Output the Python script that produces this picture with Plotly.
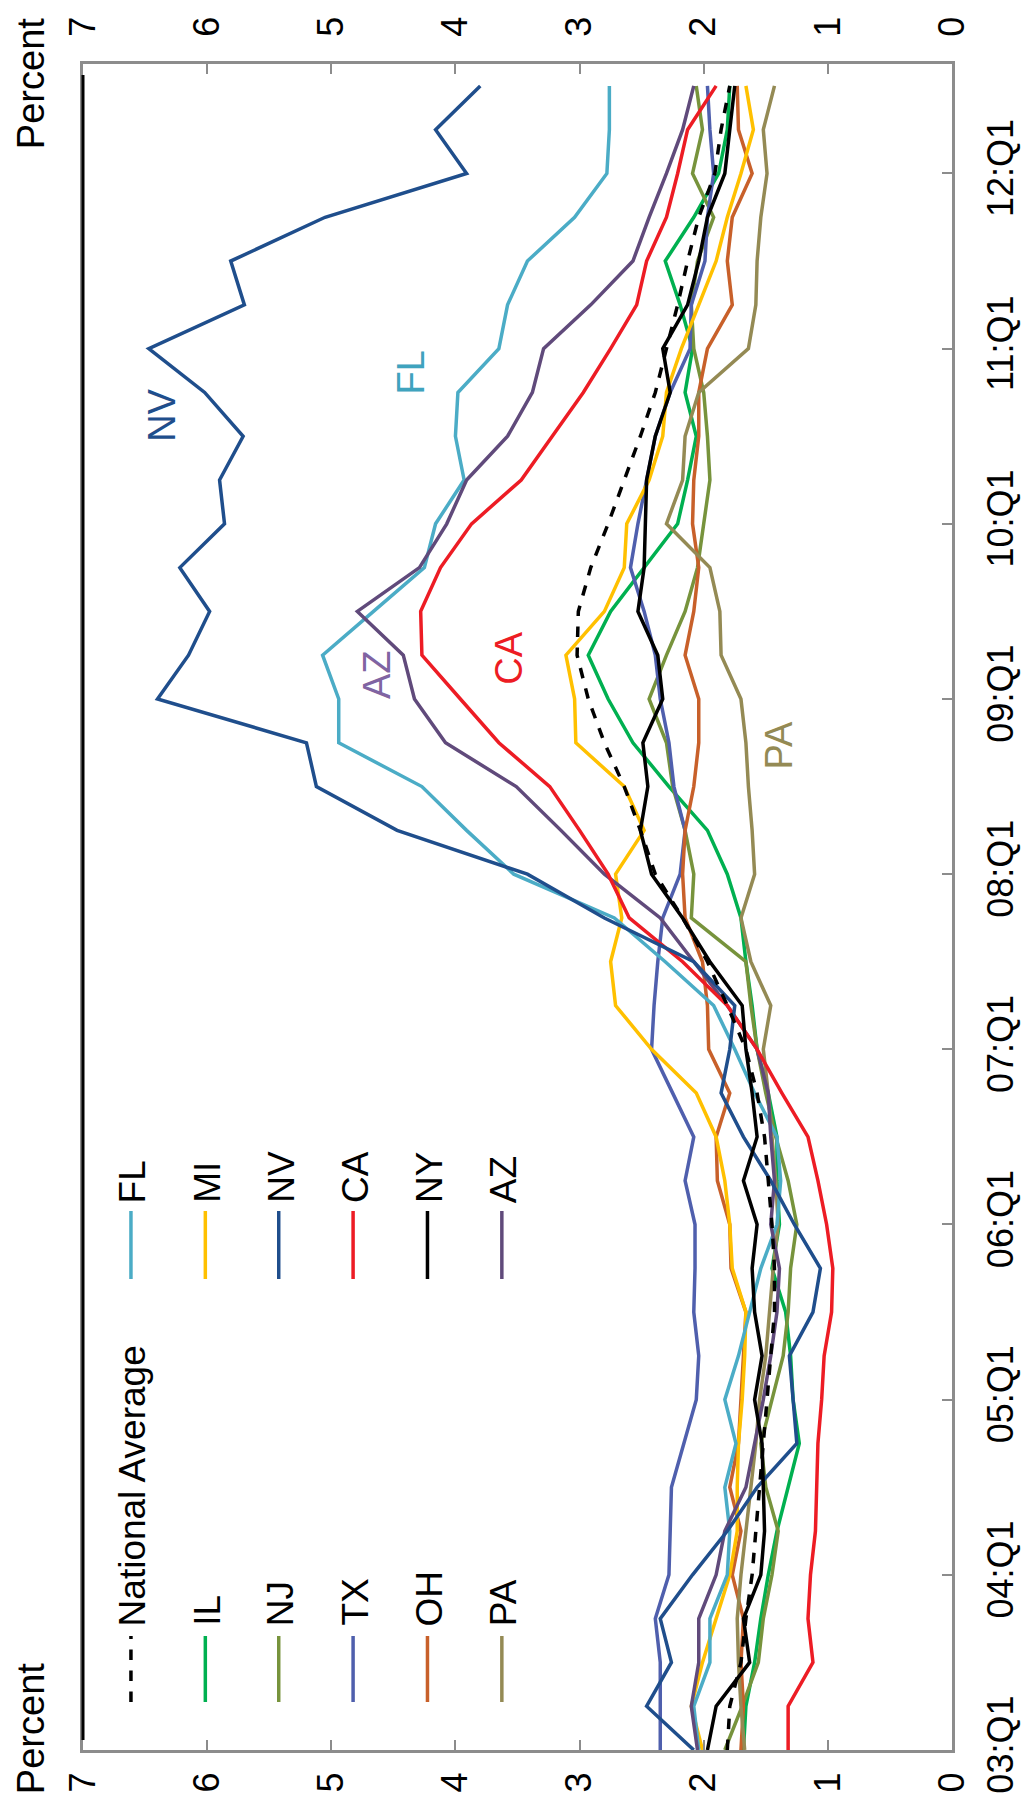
import plotly.graph_objects as go

quarters = [f"{y:02d}:Q{q}" for y in range(3, 13) for q in range(1, 5)][:39]
tick_quarters = [f"{y:02d}:Q1" for y in range(3, 13)]
pct_ticks = [0, 1, 2, 3, 4, 5, 6, 7]

national = [1.81,1.79,1.70,1.66,1.61,1.58,1.55,1.52,1.49,1.46,1.43,1.43,1.45,1.48,1.51,1.57,1.66,1.81,1.97,2.17,
            2.39,2.51,2.64,2.80,2.93,3.02,3.01,2.91,2.77,2.64,2.51,2.39,2.30,2.21,2.13,2.04,1.91,1.86,1.79]
fl = [2.04,2.08,1.95,1.95,1.81,1.79,1.83,1.74,1.83,1.72,1.63,1.54,1.41,1.38,1.41,1.59,1.75,1.92,2.31,2.72,
      3.53,3.91,4.27,4.94,4.94,5.07,4.66,4.25,4.16,3.93,4.00,3.98,3.65,3.58,3.42,3.04,2.78,2.76,2.76]
il = [1.68,1.66,1.59,1.54,1.48,1.41,1.32,1.23,1.28,1.30,1.34,1.45,1.39,1.41,1.41,1.48,1.57,1.61,1.66,1.70,
      1.81,1.97,2.28,2.57,2.77,2.93,2.75,2.48,2.21,2.13,2.06,2.15,2.09,2.19,2.31,2.08,1.88,1.81,1.79]
mi = [2.01,2.10,2.01,1.90,1.79,1.73,1.73,1.72,1.69,1.67,1.66,1.77,1.79,1.83,1.90,2.06,2.42,2.71,2.75,2.66,
      2.71,2.48,2.64,3.03,3.04,3.11,2.80,2.64,2.62,2.44,2.33,2.30,2.18,2.04,1.90,1.81,1.70,1.60,1.66]
nj = [1.83,1.69,1.56,1.52,1.45,1.40,1.50,1.54,1.45,1.36,1.32,1.30,1.25,1.32,1.42,1.50,1.57,1.62,1.66,2.10,
      2.08,2.15,2.25,2.30,2.44,2.30,2.15,2.05,2.00,1.95,1.97,2.00,2.08,2.10,2.05,1.92,2.09,2.01,2.06]
nv = [2.08,2.46,2.26,2.35,2.09,1.81,1.57,1.25,1.28,1.31,1.12,1.06,1.27,1.46,1.68,1.86,1.79,1.75,2.08,2.80,
      3.42,4.47,5.12,5.20,6.40,6.15,5.98,6.22,5.86,5.90,5.71,6.02,6.47,5.70,5.81,5.05,3.91,4.16,3.80]
tx = [2.35,2.35,2.35,2.39,2.28,2.27,2.26,2.16,2.06,2.04,2.08,2.07,2.07,2.15,2.08,2.25,2.42,2.40,2.37,2.33,
      2.19,2.15,2.24,2.28,2.35,2.39,2.48,2.59,2.53,2.46,2.39,2.27,2.11,2.10,1.99,1.97,1.92,1.95,1.97]
ca = [1.32,1.32,1.12,1.16,1.14,1.10,1.09,1.08,1.05,1.03,0.97,0.96,1.01,1.08,1.16,1.37,1.57,1.81,2.17,2.60,
      2.77,3.00,3.24,3.65,3.96,4.27,4.28,4.12,3.87,3.47,3.22,2.97,2.75,2.54,2.46,2.30,2.21,2.13,1.90]
oh = [1.70,1.68,1.70,1.68,1.77,1.70,1.79,1.72,1.70,1.68,1.66,1.78,1.79,1.89,1.90,1.79,1.96,1.97,2.01,2.15,
      2.17,2.15,2.08,2.04,2.04,2.15,2.08,2.04,2.09,2.08,2.04,2.04,1.97,1.77,1.81,1.77,1.61,1.72,1.73]
ny = [1.97,1.90,1.63,1.68,1.54,1.51,1.52,1.53,1.59,1.53,1.59,1.61,1.57,1.68,1.57,1.61,1.66,1.69,1.95,2.17,
      2.42,2.51,2.45,2.49,2.33,2.37,2.53,2.48,2.47,2.46,2.39,2.27,2.33,2.13,2.04,1.97,1.83,1.79,1.75]
pa = [1.67,1.70,1.72,1.73,1.70,1.66,1.62,1.58,1.55,1.50,1.47,1.44,1.40,1.42,1.45,1.48,1.52,1.46,1.62,1.70,
      1.59,1.61,1.64,1.66,1.70,1.86,1.87,1.95,2.30,2.17,2.15,2.04,1.64,1.58,1.57,1.54,1.49,1.52,1.43]
az = [2.05,2.10,2.04,2.04,1.90,1.83,1.66,1.59,1.52,1.46,1.41,1.39,1.46,1.43,1.46,1.48,1.57,1.81,2.08,2.35,
      2.80,3.15,3.51,4.08,4.33,4.42,4.79,4.29,4.07,3.91,3.58,3.38,3.29,2.91,2.57,2.44,2.30,2.17,2.08]

series_names = ["National Average", "FL", "IL", "MI", "NJ", "NV", "TX", "CA", "OH", "NY", "PA", "AZ"]
series_vals = [national, fl, il, mi, nj, nv, tx, ca, oh, ny, pa, az]
series_colors = ["#000000", "#4BACC6", "#00B050", "#FFC000", "#77933C", "#1F4E8C",
                 "#4F5FAD", "#ED1C24", "#C8602A", "#000000", "#948A54", "#604A7B"]
series_dash = ["dash"] + ["solid"] * 11

# in-plot labels
label_names = ["NV", "FL", "AZ", "CA", "PA"]
label_vals = [6.37, 4.36, 4.63, 3.57, 1.39]
label_pos = [30.47, 31.45, 24.55, 24.94, 22.95]
label_colors = ["#1F4E8C", "#3FA3BE", "#8064A2", "#ED1C24", "#948A54"]

FONT = "Liberation Sans, Arial, sans-serif"
W, H = 1030, 1810
L, R, T, B = 79, 967, 56, 1742

fig = go.Figure()
draw_order = [2, 4, 6, 8, 10, 3, 1, 11, 7, 5, 9, 0]
for i in draw_order:
    fig.add_trace(go.Scatter(
        x=series_vals[i], y=quarters, mode="lines", name=series_names[i],
        line=dict(color=series_colors[i], width=3.5, dash=series_dash[i]),
        showlegend=False))
# invisible trace to activate top axis
fig.add_trace(go.Scatter(x=[None], y=[None], xaxis="x2", showlegend=False))

for n, v, p, c in zip(label_names, label_vals, label_pos, label_colors):
    fig.add_annotation(x=v, y=p, text=n, showarrow=False, textangle=-90,
                       font=dict(family=FONT, size=38, color=c),
                       xanchor="center", yanchor="middle")

def px_x(x):
    return (x - L) / (R - L)

def px_y(y):
    return (B - y) / (B - T)

# manual legend (rotated)
col0 = ["National Average", "IL", "NJ", "TX", "OH", "PA"]
col1 = ["FL", "MI", "NV", "CA", "NY", "AZ"]
row_x = [128, 204, 279, 355, 431, 507]
for c_idx, col in enumerate([col0, col1]):
    y_bot, y_top, y_text = (1694, 1628, 1620) if c_idx == 0 else (1271, 1203, 1197)
    for r_idx, name in enumerate(col):
        k = series_names.index(name)
        xp = px_x(row_x[r_idx])
        fig.add_shape(type="line", xref="paper", yref="paper",
                      x0=xp, x1=xp, y0=px_y(y_bot), y1=px_y(y_top),
                      line=dict(color=series_colors[k], width=3.5,
                                dash="dash" if series_dash[k] == "dash" else "solid"))
        fig.add_annotation(xref="paper", yref="paper", x=px_x(row_x[r_idx] + 2), y=px_y(y_text),
                           text=name, showarrow=False, textangle=-90,
                           xanchor="center", yanchor="bottom",
                           font=dict(family=FONT, size=37, color="#000000"))

# "Percent" titles
for yc in (76, 1721):
    fig.add_annotation(xref="paper", yref="paper", x=px_x(26), y=px_y(yc), text="Percent",
                       showarrow=False, textangle=-90, xanchor="center", yanchor="middle",
                       font=dict(family=FONT, size=38, color="#000000"))

# black left border segment
fig.add_shape(type="line", xref="paper", yref="paper", x0=0, x1=0,
              y0=px_y(1732), y1=px_y(67), line=dict(color="#000000", width=3))

def pct_axis(side, standoff):
    return dict(range=[7, 0], tickvals=pct_ticks, ticktext=[str(t) for t in pct_ticks],
                tickangle=-90, ticks="inside", ticklen=10, tickwidth=2, tickcolor="#8C8C8C",
                showline=True, linecolor="#8C8C8C", linewidth=3, showgrid=False,
                zeroline=False, tickfont=dict(family=FONT, size=36, color="#000000"),
                ticklabelstandoff=standoff, fixedrange=True, side=side, automargin=False)

fig.update_layout(
    width=W, height=H,
    margin=dict(l=75, r=86, t=T, b=H - B, pad=0),
    paper_bgcolor="white", plot_bgcolor="white",
    showlegend=False,
    xaxis=pct_axis("bottom", 5),
    xaxis2=dict(overlaying="x", matches="x", **pct_axis("top", 17)),
    yaxis=dict(type="category", categoryorder="array", categoryarray=quarters,
               range=[0, 38.5], side="right", tickvals=tick_quarters, ticktext=tick_quarters,
               tickangle=-90, ticks="inside", ticklen=10, tickwidth=2, tickcolor="#8C8C8C",
               showline=True, linecolor="#8C8C8C", linewidth=3, mirror=True,
               showgrid=False, zeroline=False, ticklabelstandoff=15, automargin=False,
               tickfont=dict(family=FONT, size=36, color="#000000")),
)

fig.write_html("out.html")
